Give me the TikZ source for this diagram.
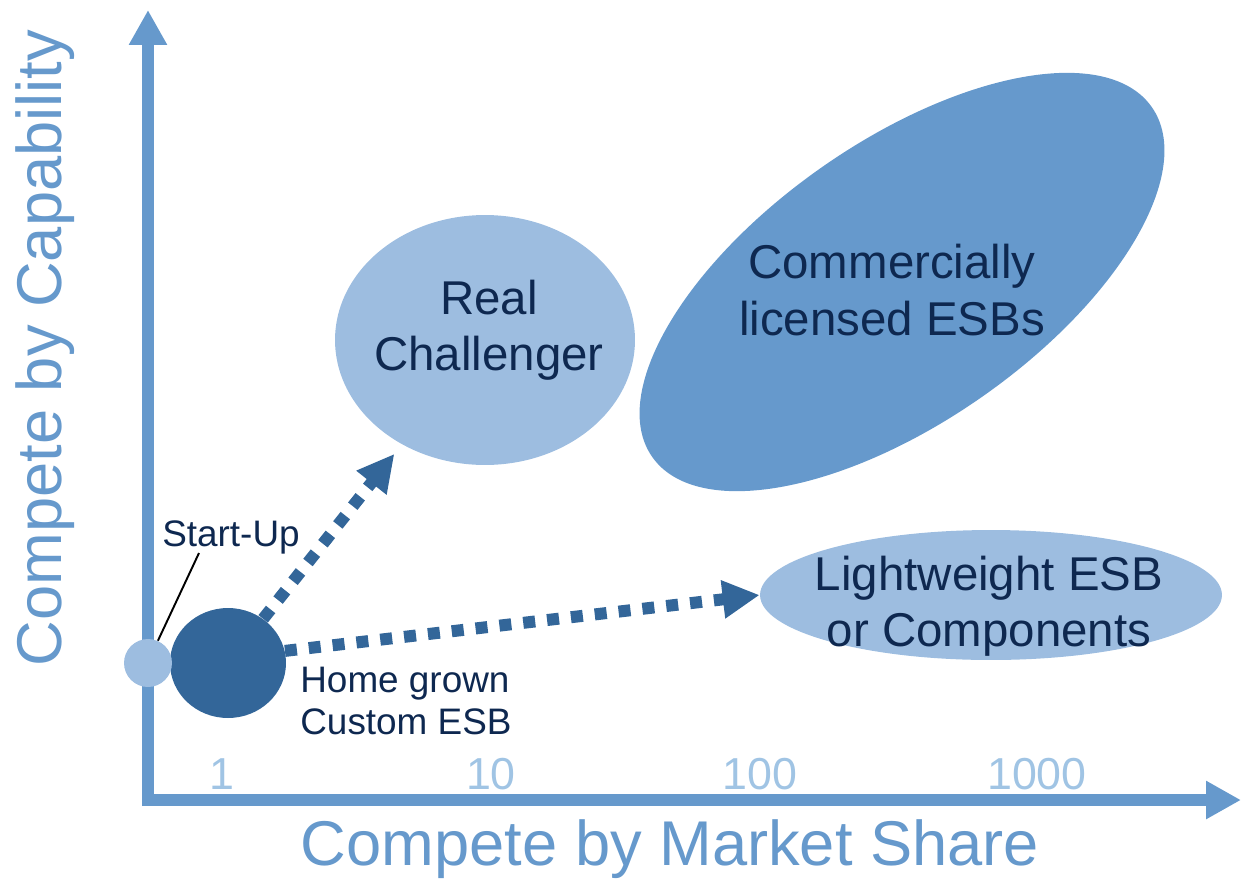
\documentclass[tikz,border=0pt]{standalone}
\usepackage{fontspec}
\setmainfont{Liberation Sans}
\usetikzlibrary{arrows.meta,shapes.geometric}

\definecolor{axisblue}{RGB}{102,153,204}
\definecolor{paleblue}{RGB}{157,189,224}
\definecolor{deepblue}{RGB}{51,102,153}
\definecolor{ticktext}{RGB}{160,196,228}
\definecolor{navytext}{RGB}{14,40,80}

\tikzset{
  axisline/.style={line width=0.24cm, axisblue, -{Triangle[length=0.7cm,width=0.72cm]}},
  blob/.style={ellipse, inner sep=0pt, draw=none},
  movearrow/.style={line width=0.24cm, deepblue, dash pattern=on 0.24cm off 0.24cm,
    -{Triangle[length=0.74cm,width=0.72cm]}},
  bigtext/.style={inner sep=0pt, text=navytext, align=center, font=\fontsize{27}{32}\selectfont},
  smalltext/.style={inner sep=0pt, text=navytext, font=\fontsize{21}{23.5}\selectfont},
  ticklabel/.style={inner sep=0pt, text=ticktext, font=\fontsize{25.5}{30}\selectfont},
}

\begin{document}
\begin{tikzpicture}[x=0.02cm, y=-0.02cm]
            \useasboundingbox (0,0) rectangle (1241,880);

            % Axes
            \coordinate (O) at (148,800);
            \draw[axisline] (148,806) -- (148,10);
            \draw[axisline] (142,800) -- (1241,800);
            \node[inner sep=0pt, text=axisblue, rotate=90, font=\fontsize{36}{43}\selectfont] (ylabel) at (45,348) {Compete by Capability};
            \node[inner sep=0pt, text=axisblue, font=\fontsize{36}{43}\selectfont] (xlabel) at (670,849) {Compete by Market Share};

            % Scale marks
            \node[ticklabel] (t1) at (222,774) {1};
            \node[ticklabel] (t10) at (491,774) {10};
            \node[ticklabel] (t100) at (760,774) {100};
            \node[ticklabel] (t1000) at (1037,774) {1000};

            % Market segments
            \node[blob, fill=paleblue, minimum width=6cm, minimum height=5cm] (chal) at (485,340) {};
            \node[bigtext] (chaltxt) at (489,330) {Real\\Challenger};

            \node[blob, fill=axisblue, rotate=35, minimum width=12.2cm, minimum height=5.6cm] (comm) at (902,282) {};
            \node[bigtext] (commtxt) at (892,290) {Commercially\\licensed ESBs};

            \node[blob, fill=paleblue, minimum width=9.24cm, minimum height=2.6cm] (light) at (991,595) {};
            \node[bigtext] (lighttxt) at (989,606) {Lightweight ESB\\or Components};

            % Starting points
            \node[blob, fill=deepblue, minimum width=2.32cm, minimum height=2.2cm] (home) at (228,663) {};
            \node[smalltext, anchor=west, align=left] (hometxt) at (300,701) {Home grown\\Custom ESB};
            \node[circle, inner sep=0pt, fill=paleblue, minimum size=0.96cm] (start) at (148,663) {};
            \node[smalltext] (starttxt) at (231,537) {Start-Up};
            \coordinate (startpin) at (199,553);
            \draw[black, line width=1.1pt] (startpin) -- (start.66);

            % Growth paths
            \draw[movearrow, shorten >=0.24cm] (home) -- (chal);
            \draw[movearrow] (home.12) -- (light.west);
        \end{tikzpicture}
\end{document}
